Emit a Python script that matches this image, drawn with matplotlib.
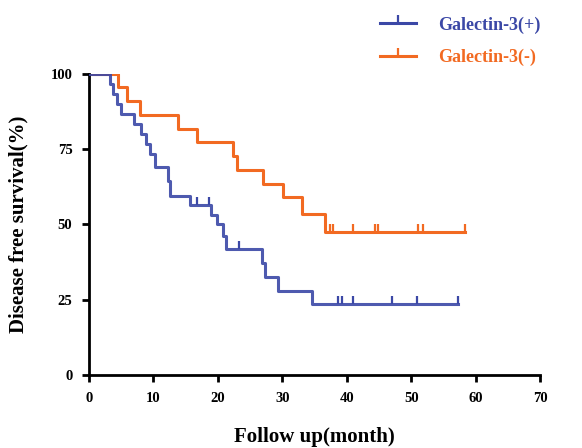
import matplotlib
matplotlib.use("Agg")
import matplotlib.pyplot as plt
from matplotlib.lines import Line2D

# Galectin-3(+) : event times and survival level after each drop
pos_times = [0, 3.2, 3.7, 4.3, 5.0, 6.9, 8.0, 8.8, 9.5, 10.3, 12.2, 12.6, 15.6,
             19.0, 19.8, 20.8, 21.3, 26.8, 27.3, 29.4, 34.6, 57.3]
pos_surv = [100, 96.7, 93.3, 90.0, 86.7, 83.3, 80.0, 76.7, 73.3, 69.0, 64.5, 59.5, 56.3,
            53.0, 50.0, 46.0, 42.0, 37.3, 32.7, 28.0, 23.6, 23.6]
pos_cens_t = [16.7, 18.6, 23.2, 38.7, 39.2, 41.0, 47.0, 50.9, 57.3]
pos_cens_s = [56.3, 56.3, 42.0, 23.6, 23.6, 23.6, 23.6, 23.6, 23.6]

# Galectin-3(-)
neg_times = [0, 4.5, 5.9, 7.9, 13.8, 16.8, 22.4, 23.0, 27.0, 30.1, 33.1, 36.6, 58.4]
neg_surv = [100, 95.5, 91.0, 86.4, 81.8, 77.3, 72.7, 68.2, 63.6, 59.1, 53.5, 47.6, 47.6]
neg_cens_t = [37.4, 37.9, 41.0, 44.4, 44.9, 51.1, 51.9, 58.4]
neg_cens_s = [47.6] * 8

labels = ["Galectin-3(+)", "Galectin-3(-)"]
xticks = [0, 10, 20, 30, 40, 50, 60, 70]
yticks = [0, 25, 50, 75, 100]

blue = "#3b48a6"
orange = "#f26a22"

plt.rcParams['font.family'] = ['Liberation Serif', 'DejaVu Serif']
plt.rcParams['font.weight'] = 'bold'

fig = plt.figure(figsize=(5.82, 4.48), dpi=100)
ax = fig.add_axes([0.153, 0.163, 0.775, 0.672])

lw = 2.2
ax.step(neg_times, neg_surv, where='post', color=orange, lw=lw, zorder=2)
ax.plot(neg_cens_t, neg_cens_s, ls='none', marker=2, ms=5.5, mew=1.6, color=orange, zorder=2)
ax.step(pos_times, pos_surv, where='post', color=blue, lw=lw, zorder=3, alpha=0.9)
ax.plot(pos_cens_t, pos_cens_s, ls='none', marker=2, ms=5.5, mew=1.6, color=blue, zorder=3)

ax.set_xlim(0, 70)
ax.set_ylim(0, 100)
ax.set_xticks(xticks)
ax.set_yticks(yticks)
for s in ['top', 'right']:
    ax.spines[s].set_visible(False)
for s in ['left', 'bottom']:
    ax.spines[s].set_linewidth(2.0)
ax.tick_params(direction='out', length=5, width=2.0, labelsize=10.5, pad=7)
for lab in ax.get_xticklabels() + ax.get_yticklabels():
    lab.set_fontweight('bold')

ax.set_xlabel("Follow up(month)", fontsize=15, fontweight='bold', labelpad=16)
ax.set_ylabel("Disease free survival(%)", fontsize=15, fontweight='bold', labelpad=16)

handles = [Line2D([0], [0], color=blue, lw=lw, marker=2, ms=6, mew=1.6),
           Line2D([0], [0], color=orange, lw=lw, marker=2, ms=6, mew=1.6)]
leg = fig.legend(handles, labels, loc='upper left', bbox_to_anchor=(0.625, 1.0),
                 frameon=False, handlelength=2.0, handletextpad=1.2, labelspacing=0.85,
                 prop={'size': 13, 'weight': 'bold'})
for t, c in zip(leg.get_texts(), [blue, orange]):
    t.set_color(c)

fig.savefig("out.png", dpi=100)
